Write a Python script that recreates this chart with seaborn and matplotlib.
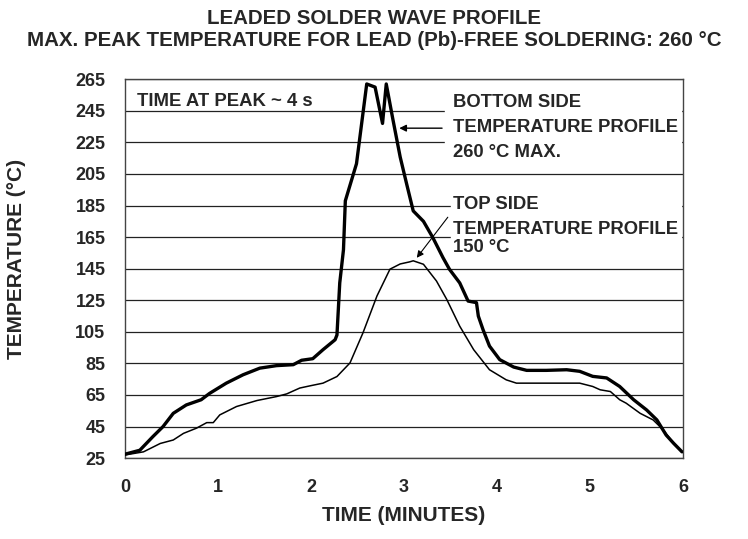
import numpy as np
import pandas as pd
import seaborn as sns
import matplotlib.pyplot as plt

# bottom side (thick) profile
bottom_time = [0.00, 0.16, 0.30, 0.41, 0.52, 0.66, 0.82, 0.91, 1.09, 1.27, 1.45, 1.63,
               1.81, 1.90, 2.02, 2.13, 2.26, 2.28, 2.31, 2.35, 2.37, 2.49, 2.60, 2.69,
               2.77, 2.81, 2.88, 2.96, 3.03, 3.10, 3.21, 3.31, 3.42, 3.49, 3.60, 3.69,
               3.78, 3.80, 3.85, 3.92, 4.03, 4.18, 4.32, 4.53, 4.75, 4.89, 5.03, 5.18,
               5.32, 5.47, 5.61, 5.72, 5.82, 5.90, 5.99]
bottom_temp = [27.5, 30, 38.6, 45, 53.4, 58.7, 62, 66, 72.5, 77.8, 82, 83.6,
               84.2, 87, 88, 93.7, 100, 103, 136, 157, 188, 211.5, 262, 260,
               237, 262, 240, 215.7, 198.5, 181.6, 175, 164.8, 152, 144.6, 136, 124.5,
               123.5, 115, 106.5, 96, 87.4, 82.7, 80.6, 80.6, 81, 80, 76.8, 75.8,
               70.4, 62, 55.5, 49.2, 39.6, 34.4, 29]

# top side (thin) profile
top_time = [0.00, 0.20, 0.38, 0.52, 0.63, 0.77, 0.88, 0.95, 1.02, 1.20, 1.42, 1.63,
            1.74, 1.88, 1.99, 2.13, 2.28, 2.42, 2.56, 2.71, 2.85, 2.96, 3.06, 3.10,
            3.21, 3.35, 3.46, 3.60, 3.75, 3.92, 4.10, 4.21, 4.53, 4.89, 5.03, 5.11,
            5.22, 5.32, 5.39, 5.54, 5.68, 5.79, 5.90, 5.99]
top_temp = [27, 29, 34.3, 36.5, 40.7, 44, 47.5, 47.5, 52.4, 57.7, 61.5, 64,
            65.7, 69.4, 70.8, 72.5, 76.7, 85.3, 104.4, 127.7, 144.7, 148, 149.3, 150,
            147.8, 137.2, 125.6, 108.6, 93.7, 81, 74.6, 72.5, 72.5, 72.5, 70.4, 68.3,
            67.2, 62, 59.8, 53.4, 49.2, 42.8, 34.4, 29]

y_ticks = list(range(25, 266, 20))
x_ticks = [0, 1, 2, 3, 4, 5, 6]

sns.set_style("white")
plt.rcParams['font.family'] = ['Liberation Sans', 'DejaVu Sans']
plt.rcParams['font.weight'] = 'bold'

fig = plt.figure(figsize=(7.48, 5.39), dpi=100)
ax = fig.add_axes([0.167, 0.150, 0.746, 0.703])

bottom = pd.DataFrame({"time": bottom_time, "temp": bottom_temp})
top = pd.DataFrame({"time": top_time, "temp": top_temp})

sns.lineplot(data=bottom, x="time", y="temp", ax=ax, color="black", linewidth=2.4,
             sort=False, estimator=None, zorder=3)
sns.lineplot(data=top, x="time", y="temp", ax=ax, color="black", linewidth=1.1,
             sort=False, estimator=None, zorder=3)

ax.set_xlim(0, 6)
ax.set_ylim(25, 265)
ax.set_xticks(x_ticks)
ax.set_yticks(y_ticks)
ax.yaxis.grid(True, color="#222222", linewidth=0.9)
ax.xaxis.grid(False)
ax.set_axisbelow(True)
for s in ax.spines.values():
    s.set_color("#444444")
    s.set_linewidth(1.0)
ax.tick_params(axis="both", direction="out", length=4, width=1, color="black",
               labelsize=13)
ax.tick_params(axis="x", pad=11)
ax.tick_params(axis="y", pad=10)
for lab in ax.get_xticklabels() + ax.get_yticklabels():
    lab.set_fontweight("bold")

ax.set_xlabel("TIME (MINUTES)", fontsize=15, fontweight="bold")
ax.set_ylabel("TEMPERATURE (°C)", fontsize=15, fontweight="bold")
ax.xaxis.set_label_coords(0.5, -0.125)
ax.yaxis.set_label_coords(-0.178, 0.525)

fig.text(0.5, 1 - 18 / 539, "LEADED SOLDER WAVE PROFILE", ha="center", va="center",
         fontsize=14.8, fontweight="bold")
fig.text(0.5, 1 - 40 / 539, "MAX. PEAK TEMPERATURE FOR LEAD (Pb)-FREE SOLDERING: 260 °C",
         ha="center", va="center", fontsize=14.8, fontweight="bold")

# annotations
ax.text(0.13, 251, "TIME AT PEAK ~ 4 s", fontsize=13.3, fontweight="bold", va="center")

ax.fill_between([3.44, 5.98], 210, 258, color="white", zorder=1.5)
ax.text(3.53, 250, "BOTTOM SIDE", fontsize=13.3, fontweight="bold", va="center", zorder=4)
ax.text(3.53, 234.3, "TEMPERATURE PROFILE", fontsize=13.3, fontweight="bold",
        va="center", zorder=4)
ax.text(3.53, 218.4, "260 °C MAX.", fontsize=13.3, fontweight="bold", va="center", zorder=4)
ax.annotate("", xy=(2.92, 234), xytext=(3.44, 234),
            arrowprops=dict(arrowstyle="-|>", color="black", lw=1, mutation_scale=10),
            zorder=4)

ax.fill_between([3.51, 5.98], 153, 192, color="white", zorder=1.5)
ax.text(3.53, 185.4, "TOP SIDE", fontsize=13.3, fontweight="bold", va="center", zorder=4)
ax.text(3.53, 169.6, "TEMPERATURE PROFILE", fontsize=13.3, fontweight="bold",
        va="center", zorder=4)
ax.text(3.53, 158.2, "150 °C", fontsize=13.3, fontweight="bold", va="center", zorder=4)
ax.annotate("", xy=(3.12, 150.5), xytext=(3.49, 179),
            arrowprops=dict(arrowstyle="-|>", color="black", lw=0.8, mutation_scale=10),
            zorder=4)

fig.savefig("out.png", dpi=100)
